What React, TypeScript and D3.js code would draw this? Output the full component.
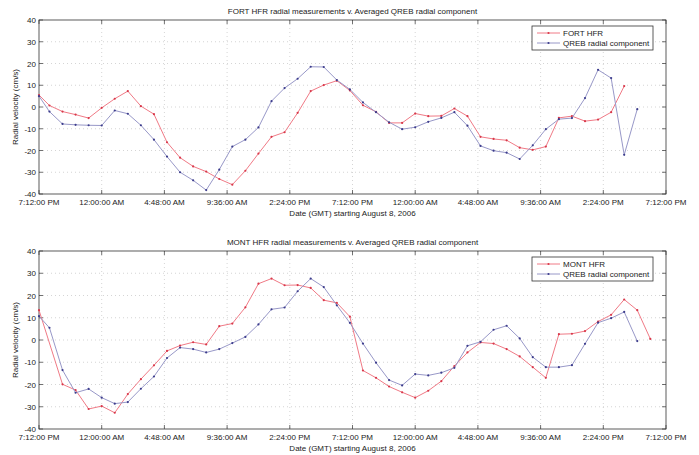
import * as d3 from "d3";

// hours since 7:12 PM Aug 8, 2006 -> first sample at the start, then on every hour
const START = new Date(2006, 7, 8, 19, 12);
const END = new Date(2006, 7, 10, 19, 12);

const fortHfr = [
  5.5, 0.7, -2.1, -3.5, -5.1, -0.4, 3.8, 7.3, 0.4, -3.3, -16.2, -23.3, -27.3, -29.7, -33.1,
  -35.7, -29.3, -21.4, -13.7, -11.6, -2.7, 7.3, 10.1, 12.1, 7.6, 0.8, -2.2, -7.3, -7.3, -3.0,
  -4.2, -4.1, -0.7, -4.2, -13.7, -14.7, -15.3, -18.7, -19.7, -18.2, -5.0, -4.2, -6.5, -5.8,
  -2.4, 9.6,
];
const fortQreb = [
  5.0, -2.1, -7.8, -8.2, -8.4, -8.5, -1.6, -3.1, -8.4, -15.0, -22.8, -30.0, -33.7, -38.2,
  -28.8, -18.2, -15.0, -9.4, 2.7, 8.7, 13.0, 18.5, 18.4, 12.4, 8.1, 2.1, -2.4, -7.0, -10.2,
  -9.3, -6.8, -5.0, -2.4, -8.6, -17.9, -20.1, -21.0, -23.9, -17.6, -10.2, -5.6, -5.1, 4.1,
  17.1, 13.3, -22.0, -1.0,
];
const montHfr = [
  13.4, null, -19.9, -22.5, -31.0, -29.7, -32.7, -24.3, -17.6, -11.4, -4.9, -2.5, -1.0, -2.0,
  6.2, 7.4, 14.7, 25.3, 27.6, 24.6, 24.7, 23.4, 17.9, 16.7, 10.5, -13.7, -17.0, -20.9, -23.5,
  -25.9, -22.8, -18.5, -11.7, -5.6, -1.1, -1.6, -4.1, -7.4, -12.2, -17.0, 2.6, 2.8, 4.0, 8.3,
  11.3, 18.2, 13.4, 0.5,
];
const montQreb = [
  10.7, 5.5, -13.5, -23.7, -22.0, -25.9, -28.6, -27.9, -21.9, -16.4, -8.1, -3.4, -4.1, -5.6,
  -4.1, -1.4, 1.4, 7.0, 13.8, 14.6, 21.9, 27.6, 23.8, 15.6, 7.7, -1.6, -10.2, -18.0, -20.4,
  -15.3, -15.9, -14.7, -12.5, -2.6, -0.8, 4.6, 6.4, 0.7, -7.7, -12.2, -12.2, -11.3, -1.7, 7.8,
  9.8, 12.6, -0.5,
];

const yTicks = [-40, -30, -20, -10, 0, 10, 20, 30, 40];
const xTickCount = 10; // one tick every 4.8 hours

const panels = [
  { title: "FORT HFR radial measurements v. Averaged QREB radial component", site: "FORT HFR", hfr: fortHfr, qreb: fortQreb, top: 20, bottom: 194 },
  { title: "MONT HFR radial measurements v. Averaged QREB radial component", site: "MONT HFR", hfr: montHfr, qreb: montQreb, top: 251, bottom: 429 },
];

const LEFT = 39;
const RIGHT = 666;
const FONT = "Liberation Sans, Arial, sans-serif";
const RED_LINE = "#f07a86";
const RED_DOT = "#d8384a";
const BLUE_LINE = "#9898c8";
const BLUE_DOT = "#3c3c8c";

const timeAt = (i: number) => (i === 0 ? START : d3.timeHour.offset(new Date(2006, 7, 8, 20), i - 1));

const toPoints = (vals: (number | null)[]) =>
  vals.map((v, i) => ({ t: timeAt(i), v })).filter((d) => d.v !== null) as { t: Date; v: number }[];

const fmt = d3.timeFormat("%-I:%M:%S %p");

function Panel({ p }: { p: (typeof panels)[number] }) {
  const x = d3.scaleTime().domain([START, END]).range([LEFT, RIGHT]);
  const y = d3.scaleLinear().domain([-40, 40]).range([p.bottom, p.top]);
  const xTicks = d3.range(xTickCount + 1).map((i) => new Date(+START + (i * (+END - +START)) / xTickCount));
  const line = d3
    .line<{ t: Date; v: number }>()
    .x((d) => x(d.t))
    .y((d) => y(d.v));
  const series = [
    { name: p.site, pts: toPoints(p.hfr), lc: RED_LINE, dc: RED_DOT },
    { name: "QREB radial component", pts: toPoints(p.qreb), lc: BLUE_LINE, dc: BLUE_DOT },
  ];
  const midY = (p.top + p.bottom) / 2;
  const lgX = 532;
  const lgY = p.top + 6;
  return (
    <g fontFamily={FONT} fontSize={8} fill="#222">
      <text x={(LEFT + RIGHT) / 2} y={p.top - 6} textAnchor="middle">
        {p.title}
      </text>
      {yTicks.map((t) => (
        <g key={"y" + t}>
          {t !== -40 && t !== 40 && (
            <line x1={LEFT} x2={RIGHT} y1={y(t)} y2={y(t)} stroke="#b8b8b8" strokeWidth={0.6} strokeDasharray="1,3" />
          )}
          <line x1={LEFT} x2={LEFT + 4} y1={y(t)} y2={y(t)} stroke="#333" strokeWidth={0.7} />
          <line x1={RIGHT - 4} x2={RIGHT} y1={y(t)} y2={y(t)} stroke="#333" strokeWidth={0.7} />
          <text x={LEFT - 3} y={y(t) + 3} textAnchor="end">
            {t}
          </text>
        </g>
      ))}
      {xTicks.map((t, i) => (
        <g key={"x" + i}>
          {i !== 0 && i !== xTickCount && (
            <line x1={x(t)} x2={x(t)} y1={p.top} y2={p.bottom} stroke="#b8b8b8" strokeWidth={0.6} strokeDasharray="1,3" />
          )}
          <line x1={x(t)} x2={x(t)} y1={p.bottom} y2={p.bottom - 4} stroke="#333" strokeWidth={0.7} />
          <line x1={x(t)} x2={x(t)} y1={p.top} y2={p.top + 4} stroke="#333" strokeWidth={0.7} />
          <text x={x(t)} y={p.bottom + 11} textAnchor="middle">
            {fmt(t)}
          </text>
        </g>
      ))}
      <rect x={LEFT} y={p.top} width={RIGHT - LEFT} height={p.bottom - p.top} fill="none" stroke="#333" strokeWidth={0.8} />
      <text x={(LEFT + RIGHT) / 2} y={p.bottom + 22} textAnchor="middle">
        Date (GMT) starting August 8, 2006
      </text>
      <text transform={`translate(18,${midY}) rotate(-90)`} textAnchor="middle">
        Radial velocity (cm/s)
      </text>
      {series.map((s) => (
        <g key={s.name}>
          <path d={line(s.pts) ?? ""} fill="none" stroke={s.lc} strokeWidth={1} />
          {s.pts.map((d, i) => (
            <circle key={i} cx={x(d.t)} cy={y(d.v)} r={1.1} fill={s.dc} />
          ))}
        </g>
      ))}
      <rect x={lgX} y={lgY} width={121} height={24} fill="#fff" stroke="#333" strokeWidth={0.8} />
      {series.map((s, i) => (
        <g key={"lg" + i}>
          <line x1={lgX + 5} x2={lgX + 28} y1={lgY + 7 + i * 10} y2={lgY + 7 + i * 10} stroke={s.lc} strokeWidth={1} />
          <circle cx={lgX + 16.5} cy={lgY + 7 + i * 10} r={1.1} fill={s.dc} />
          <text x={lgX + 31} y={lgY + 10 + i * 10}>
            {s.name}
          </text>
        </g>
      ))}
    </g>
  );
}

export default function App() {
  return (
    <svg width={699} height={455} style={{ position: "absolute", left: 0, top: 0, background: "#fff" }}>
      <rect width={699} height={455} fill="#fff" />
      {panels.map((p) => (
        <Panel key={p.site} p={p} />
      ))}
    </svg>
  );
}
